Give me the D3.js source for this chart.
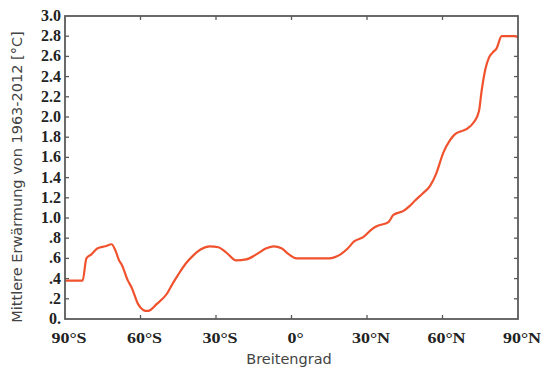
<!DOCTYPE html>
<html><head><meta charset="utf-8">
<script src="https://cdn.jsdelivr.net/npm/d3@7"></script>
<style>
body{margin:0;background:#fff;}
svg{display:block;}
</style></head>
<body>
<script>
const latitudes = [-90,-83,-81.5,-79.5,-77,-74,-71.5,-70,-68.5,-67.5,-65,-63.5,-61,-59,-58,-57,-53.5,-49.5,-47,-45,-42,-39,-36,-32.5,-29,-26,-22,-18,-14,-10,-7,-4,-1,2,5,10,15,17,19.5,22,25,28.5,32,34,38.5,40.5,44.5,47,49,52,55,57.5,60.3,63,65,67.5,69.5,72.5,74.5,75.5,77,78.5,80,81.5,83.5,86,88.5,90];
const warming = [0.38,0.38,0.60,0.64,0.70,0.72,0.74,0.68,0.58,0.54,0.38,0.31,0.15,0.09,0.08,0.08,0.15,0.25,0.36,0.44,0.55,0.63,0.69,0.72,0.71,0.66,0.58,0.59,0.64,0.70,0.72,0.70,0.64,0.60,0.60,0.60,0.60,0.61,0.64,0.69,0.77,0.81,0.89,0.92,0.96,1.03,1.07,1.12,1.17,1.24,1.315,1.44,1.645,1.77,1.83,1.86,1.88,1.95,2.06,2.25,2.47,2.59,2.64,2.68,2.80,2.80,2.80,2.79];
const xTicks = [-90,-60,-30,0,30,60,90];
const xTickLabels = ["90°S","60°S","30°S","0°","30°N","60°N","90°N"];
const yTicks = [0,0.2,0.4,0.6,0.8,1.0,1.2,1.4,1.6,1.8,2.0,2.2,2.4,2.6,2.8,3.0];
const yTickLabels = ["0.",".2",".4",".6",".8","1.0","1.2","1.4","1.6","1.8","2.0","2.2","2.4","2.6","2.8","3.0"];
const xTitle = "Breitengrad";
const yTitle = "Mittlere Erwärmung von 1963-2012 [°C]";

const W = 551, H = 370;
const L = 65, R = 518, T = 16, B = 319;
const svg = d3.select("body").append("svg").attr("width", W).attr("height", H);
const x = d3.scaleLinear().domain([-90, 90]).range([L, R]);
const y = d3.scaleLinear().domain([0, 3]).range([B, T]);
const axisColor = "#5a5a5a";

// ticks (inward) on all sides
const tl = 4;
const g = svg.append("g").attr("stroke", axisColor).attr("stroke-width", 1.3);
g.selectAll(".tb").data(xTicks.slice(1, -1)).join("line")
  .attr("x1", d => x(d)).attr("x2", d => x(d)).attr("y1", B).attr("y2", B - tl);
g.selectAll(".tt").data(xTicks.slice(1, -1)).join("line")
  .attr("x1", d => x(d)).attr("x2", d => x(d)).attr("y1", T).attr("y2", T + tl);
g.selectAll(".yl").data(yTicks.slice(1, -1)).join("line")
  .attr("x1", L).attr("x2", L + tl).attr("y1", d => y(d)).attr("y2", d => y(d));
g.selectAll(".yr").data(yTicks.slice(1, -1)).join("line")
  .attr("x1", R).attr("x2", R - tl).attr("y1", d => y(d)).attr("y2", d => y(d));

// data line
const line = d3.line().x((d, i) => x(latitudes[i])).y(d => y(d)).curve(d3.curveMonotoneX);
svg.append("path").datum(warming).attr("d", line)
  .attr("fill", "none").attr("stroke", "#f0522e").attr("stroke-width", 2.2)
  .attr("stroke-linejoin", "round");

// frame
svg.append("rect").attr("x", L).attr("y", T).attr("width", R - L).attr("height", B - T)
  .attr("fill", "none").attr("stroke", axisColor).attr("stroke-width", 1.8);

// y tick labels
svg.selectAll(".ylab").data(yTicks).join("text")
  .attr("x", 61).attr("y", d => y(d) + 5)
  .attr("text-anchor", "end")
  .attr("font-family", "Liberation Serif").attr("font-weight", "bold").attr("font-size", 16)
  .attr("fill", "#222")
  .text((d, i) => yTickLabels[i]);

// x tick labels
svg.selectAll(".xlab").data(xTicks).join("text")
  .attr("transform", d => `translate(${x(d) + 4},343) scale(1.2,1)`)
  .attr("text-anchor", "middle")
  .attr("font-family", "Liberation Serif").attr("font-weight", "bold").attr("font-size", 15)
  .attr("fill", "#222")
  .text((d, i) => xTickLabels[i]);

// titles
svg.append("text").attr("x", 289).attr("y", 364).attr("text-anchor", "middle")
  .attr("font-family", "DejaVu Sans").attr("font-size", 14.5).attr("fill", "#444")
  .text(xTitle);
svg.append("text").attr("transform", "translate(22,177) rotate(-90)").attr("text-anchor", "middle")
  .attr("font-family", "DejaVu Sans").attr("font-size", 14.5).attr("fill", "#444")
  .text(yTitle);
</script>
</body></html>
